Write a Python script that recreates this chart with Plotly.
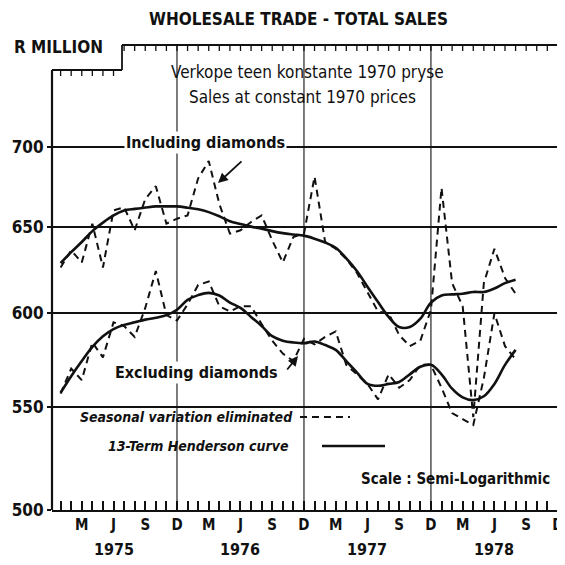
import plotly.graph_objects as go
import math

# ---------------- data (monthly, Jan 1975 = 0 ... Aug 1978 = 43) ----------------
months = list(range(44))
incl_seasonal = [626, 636, 629, 652, 626, 660, 662, 648, 667, 675, 652, 655,
                 657, 680, 691, 664, 646, 648, 653, 657, 642, 629, 644, 646,
                 681, 641, 637, 631, 623, 612, 601, 600, 588, 582, 585, 602,
                 674, 617, 604, 545, 617, 637, 620, 611]
incl_henderson = [628.6, 635, 641, 647.5, 652.6, 657, 660, 661, 661.8, 662.5, 662.5, 662.5,
                  661.7, 660.7, 659, 656.5, 653.5, 651.8, 650.2, 649, 647.5, 646.3, 645.5, 644.8,
                  643, 640.7, 637.6, 631.3, 624, 615, 606.3, 598, 592.4, 592.4, 597, 606,
                  610, 610.6, 611, 612, 612, 614, 617, 619]
excl_seasonal = [557, 570, 564, 584, 576, 595, 593, 587, 603, 624, 599, 596,
                 605, 616, 618, 604, 601, 604, 604, 594, 585, 578, 574, 586,
                 583, 587, 590, 572, 567, 562, 554, 567, 560, 564, 572, 572,
                 560, 547, 544, 541, 565, 600, 582, 575]
excl_henderson = [557.4, 566, 574, 581.6, 587.4, 591.3, 593.6, 595, 596.5, 597.5, 599, 602,
                  607.5, 610.2, 611.5, 610, 606, 603, 598, 593, 587.4, 585, 584, 583.6,
                  584.5, 582.6, 580, 574, 568, 562, 561, 562, 563, 567, 571, 572,
                  567, 559.5, 555, 553.6, 555.6, 562, 572, 580]

tick_months = list(range(48))
month_letters = {2: "M", 5: "J", 8: "S", 11: "D"}
tick_text = [month_letters.get(m % 12, "") for m in tick_months]
years = ["1975", "1976", "1977", "1978"]
year_pos = [5, 17, 29, 41]
y_ticks = [500, 550, 600, 650, 700]
dec_lines = [11, 23, 35]

# ---------------- geometry (page pixels; the page body adds an 8px offset) ----------------
OFF = 8
W = H = 565 - OFF
PL, PR, PT, PB = 52, 565, 45, 510          # plot area in page pixels
L, T = PL - OFF, PT - OFF
R, B = 0, H - (PB - OFF)
PW, PH = PR - PL, PB - PT
X0, X1 = -0.813, 47.67
Y0 = math.log10(500)
Y1 = Y0 + PH / 2484.0

def px(x):
    return (x - PL) / PW

def py(y):
    return (PB - y) / PH

def xpix(i):
    return PL + (i - X0) / (X1 - X0) * PW

FONT = "DejaVu Sans Condensed, Liberation Sans Narrow, Roboto Condensed, DejaVu Sans, sans-serif"
BLACK = "#111111"

fig = go.Figure()
dash = "7px,5px"
fig.add_trace(go.Scatter(x=months, y=incl_seasonal, mode="lines",
                         line=dict(color=BLACK, width=2, dash=dash)))
fig.add_trace(go.Scatter(x=months, y=excl_seasonal, mode="lines",
                         line=dict(color=BLACK, width=2, dash=dash)))
fig.add_trace(go.Scatter(x=months, y=incl_henderson, mode="lines", line_shape="spline",
                         line=dict(color=BLACK, width=2.6)))
fig.add_trace(go.Scatter(x=months, y=excl_henderson, mode="lines", line_shape="spline",
                         line=dict(color=BLACK, width=2.6)))

shapes = []
# vertical December grid lines
for d in dec_lines:
    shapes.append(dict(type="line", xref="x", yref="paper", x0=d, x1=d, y0=0, y1=1,
                       line=dict(color=BLACK, width=1.1), layer="below"))
# frame: left axis with step at top-left
step_x = 122
shapes.append(dict(type="line", xref="paper", yref="paper", x0=0, x1=0, y0=0, y1=py(70),
                   line=dict(color=BLACK, width=2.2)))
shapes.append(dict(type="line", xref="paper", yref="paper", x0=0, x1=px(step_x), y0=py(70), y1=py(70),
                   line=dict(color=BLACK, width=1.8)))
shapes.append(dict(type="line", xref="paper", yref="paper", x0=px(step_x), x1=px(step_x), y0=py(70), y1=1,
                   line=dict(color=BLACK, width=1.8)))
shapes.append(dict(type="line", xref="paper", yref="paper", x0=px(step_x), x1=1, y0=1, y1=1,
                   line=dict(color=BLACK, width=1.8)))
# top ticks (monthly, pointing down)
for m in tick_months:
    xp = xpix(m)
    if xp < PL + 3:
        continue
    top = 1 if xp > step_x else py(70)
    shapes.append(dict(type="line", xref="x", yref="paper", x0=m, x1=m, y0=top, y1=top - 6 / PH,
                       line=dict(color=BLACK, width=1.3)))
# legend samples
shapes.append(dict(type="line", xref="paper", yref="paper", x0=px(300), x1=px(350), y0=py(417), y1=py(417),
                   line=dict(color=BLACK, width=2, dash=dash)))
shapes.append(dict(type="line", xref="paper", yref="paper", x0=px(322), x1=px(385), y0=py(446), y1=py(446),
                   line=dict(color=BLACK, width=2.6)))

def txt(text, x, y, size=15, anchor="center", **kw):
    return dict(text=text, xref="paper", yref="paper", x=px(x), y=py(y), xanchor=anchor, yanchor="middle",
                showarrow=False, font=dict(family=FONT, size=size, color=BLACK), **kw)

annotations = [
    txt("<b>WHOLESALE TRADE - TOTAL SALES</b>", 298, 19, size=17),
    txt("<b>R MILLION</b>", 58, 47, size=17),
    txt("Verkope teen konstante 1970 pryse", 307, 72, size=17),
    txt("Sales at constant 1970 prices", 302, 97, size=17),
    txt("<b>Including diamonds</b>", 205, 143, size=16, bgcolor="white"),
    txt("<b>Excluding diamonds</b>", 196, 372, size=16, bgcolor="white"),
    txt("<b><i>Seasonal variation eliminated</i></b>", 78, 417, size=14, anchor="left"),
    txt("<b><i>13-Term Henderson curve</i></b>", 106, 446, size=14, anchor="left"),
    txt("<b>Scale : Semi-Logarithmic</b>", 455, 479, size=15),
    dict(text="", xref="paper", yref="paper", x=px(218), y=py(183), ax=25, ay=-23,
         showarrow=True, arrowhead=2, arrowsize=1.1, arrowwidth=1.8, arrowcolor=BLACK),
    dict(text="", xref="paper", yref="paper", x=px(298), y=py(356), ax=-12, ay=15,
         showarrow=True, arrowhead=2, arrowsize=1.1, arrowwidth=1.8, arrowcolor=BLACK),
]
for yr, pos in zip(years, year_pos):
    annotations.append(dict(text="<b>" + yr + "</b>", xref="x", yref="paper", x=pos, y=py(549),
                            xanchor="center", yanchor="middle", showarrow=False,
                            font=dict(family=FONT, size=16, color=BLACK)))

fig.update_layout(
    width=W, height=H, margin=dict(l=L, r=R, t=T, b=B, pad=0, autoexpand=False),
    paper_bgcolor="white", plot_bgcolor="white", showlegend=False,
    shapes=shapes, annotations=annotations,
    xaxis=dict(range=[X0, X1], tickmode="array", tickvals=tick_months, ticktext=tick_text,
               ticks="inside", ticklen=9, tickwidth=1.5, tickcolor=BLACK, automargin=False,
               ticklabeloverflow="allow",
               showline=True, linecolor=BLACK, linewidth=2.2, showgrid=False, zeroline=False,
               tickfont=dict(family=FONT, size=15, color=BLACK, weight="bold")),
    yaxis=dict(type="log", range=[Y0, Y1], tickmode="array", tickvals=y_ticks, automargin=False,
               ticktext=[str(v) for v in y_ticks], ticks="outside", ticklen=4, tickwidth=1.5,
               tickcolor=BLACK, showline=False, showgrid=True, gridcolor=BLACK, gridwidth=1.5,
               zeroline=False, tickfont=dict(family=FONT, size=17, color=BLACK, weight="bold")),
)
fig.write_html("out.html")
